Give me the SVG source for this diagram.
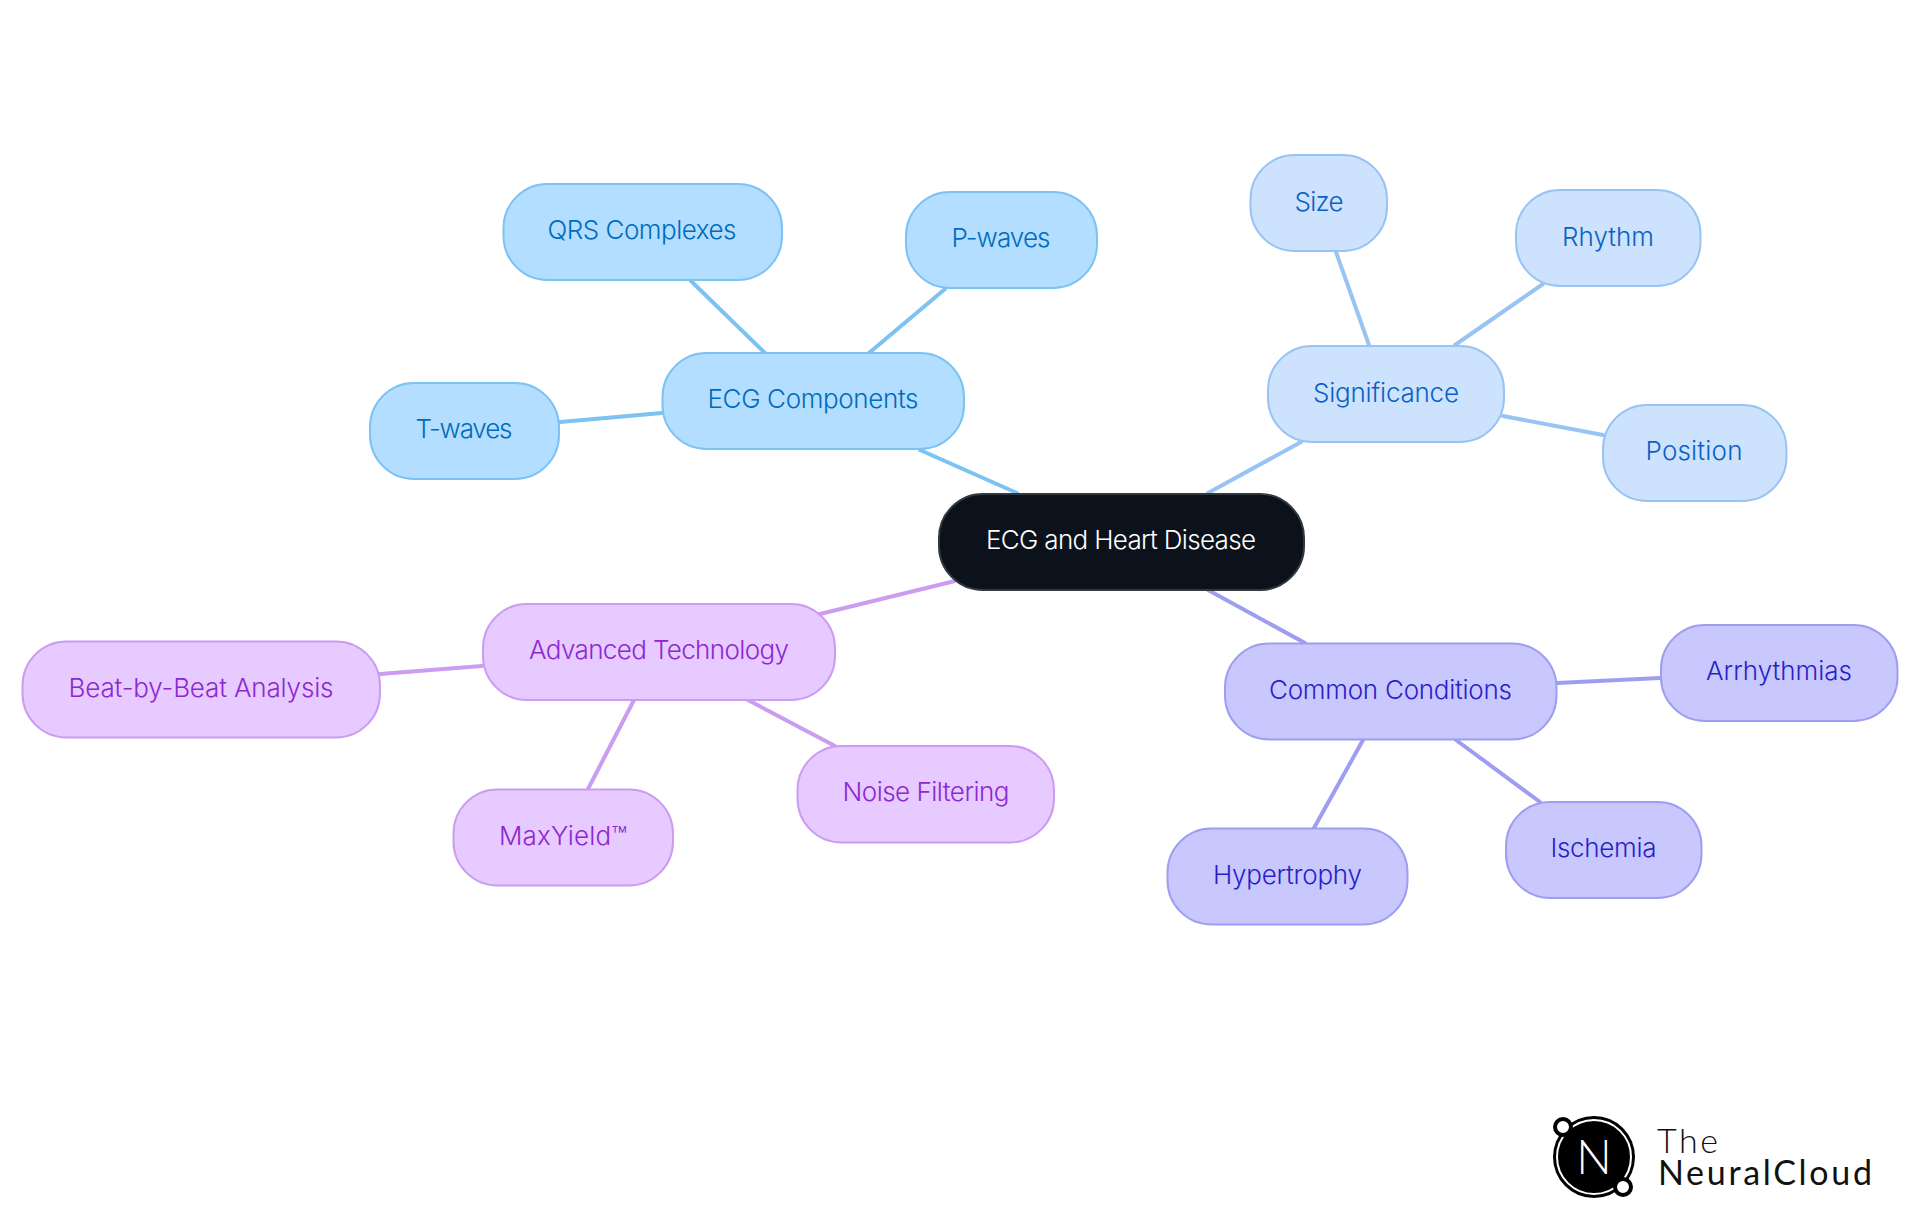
<svg xmlns="http://www.w3.org/2000/svg" width="1920" height="1215" viewBox="0 0 1920 1215">
<style>
text{font-family:"Inter","Noto Sans","Liberation Sans",sans-serif;font-size:26px;font-weight:350;text-anchor:middle;dominant-baseline:central}
.c path{fill:none;stroke-width:4;stroke-linecap:round}
rect{stroke-width:2}
.r rect{fill:#0b121b;stroke:#33383f}.r text{fill:#fff}
.a rect{fill:#b3deff;stroke:#7cc2f3}.a text{fill:#006bbd}
.b rect{fill:#cce2fd;stroke:#99c3f3}.b text{fill:#0b60c6}
.d rect{fill:#c8c8ff;stroke:#9e9ef0}.d text{fill:#2a1fc6}
.e rect{fill:#e7caff;stroke:#cb9cf0}.e text{fill:#8c28d2}
#logo .w{font-family:"Lato","Open Sans",sans-serif;text-anchor:start;font-size:34px;fill:#111;dominant-baseline:auto}
</style>
<g class="c" id="connectors">
<path stroke="#7cc2f3" d="M1017 493L920 450M765 353L691 281M869 353L945 289M662 413L560 422"/>
<path stroke="#99c3f3" d="M1208 493L1301 442M1369 345L1336 252M1455 345L1543 284M1503 416L1603 435"/>
<path stroke="#9e9ef0" d="M1208 590L1305 643M1557 683L1660 678M1456 740L1540 802M1363 740L1314 828"/>
<path stroke="#cb9cf0" d="M955 581L820 614M482 666L380 674M748 700L835 746M634 700L588 789"/>
</g>
<g id="root" class="r"><rect x="939" y="494" width="365" height="96" rx="44"/><text x="1121" y="539" textLength="270">ECG and Heart Disease</text></g>
<g id="ecg-components" class="a"><rect x="662.5" y="353" width="301.5" height="96" rx="44"/><text x="813" y="398" textLength="211">ECG Components</text></g>
<g id="qrs" class="a"><rect x="503.5" y="184" width="278.5" height="96" rx="44"/><text x="642" y="229" textLength="189">QRS Complexes</text></g>
<g id="p-waves" class="a"><rect x="906" y="192" width="191" height="96" rx="44"/><text x="1001" y="237" textLength="99">P-waves</text></g>
<g id="t-waves" class="a"><rect x="370" y="383" width="189" height="96" rx="44"/><text x="464" y="428" textLength="97">T-waves</text></g>
<g id="significance" class="b"><rect x="1268" y="346" width="236" height="96" rx="44"/><text x="1386" y="392" textLength="146">Significance</text></g>
<g id="size" class="b"><rect x="1250.5" y="155" width="136.5" height="96" rx="44"/><text x="1319" y="201" textLength="49">Size</text></g>
<g id="rhythm" class="b"><rect x="1516" y="190" width="184.5" height="96" rx="44"/><text x="1608" y="236" textLength="92">Rhythm</text></g>
<g id="position" class="b"><rect x="1603" y="405" width="183.5" height="96" rx="44"/><text x="1694" y="450" textLength="97">Position</text></g>
<g id="common-conditions" class="d"><rect x="1225" y="643.5" width="331.5" height="96" rx="44"/><text x="1390.5" y="689" textLength="243">Common Conditions</text></g>
<g id="arrhythmias" class="d"><rect x="1661" y="625" width="236.5" height="96" rx="44"/><text x="1779" y="670" textLength="146">Arrhythmias</text></g>
<g id="ischemia" class="d"><rect x="1506" y="802" width="195.5" height="96" rx="44"/><text x="1603.5" y="847" textLength="106">Ischemia</text></g>
<g id="hypertrophy" class="d"><rect x="1167.5" y="828.5" width="240" height="96" rx="44"/><text x="1287.5" y="874" textLength="149">Hypertrophy</text></g>
<g id="advanced-technology" class="e"><rect x="483" y="604" width="352" height="96" rx="44"/><text x="659" y="649" textLength="260">Advanced Technology</text></g>
<g id="beat" class="e"><rect x="22.5" y="641.5" width="357.5" height="96" rx="44"/><text x="201" y="687" textLength="265">Beat-by-Beat Analysis</text></g>
<g id="noise" class="e"><rect x="797.5" y="746" width="256.5" height="96.5" rx="44"/><text x="926" y="791" textLength="167">Noise Filtering</text></g>
<g id="maxyield" class="e"><rect x="453.5" y="789.5" width="219.5" height="96" rx="44"/><text x="563" y="835" textLength="128">MaxYield™</text></g>
<g id="logo">
<circle cx="1594" cy="1157" r="41" fill="#000"/>
<circle cx="1594" cy="1157" r="37" fill="none" stroke="#fff" stroke-width="2"/>
<circle cx="1563" cy="1127" r="8" fill="#fff" stroke="#000" stroke-width="4"/>
<circle cx="1623" cy="1187" r="8" fill="#fff" stroke="#000" stroke-width="4"/>
<text x="1594" y="1156" style="fill:#fff;font-size:47px;font-weight:300;font-family:'Lato',sans-serif">N</text>
<text class="w" x="1657" y="1153" textLength="61" style="font-weight:300">The</text>
<text class="w" x="1658" y="1185" textLength="214" style="font-weight:400">NeuralCloud</text>
</g>
</svg>
